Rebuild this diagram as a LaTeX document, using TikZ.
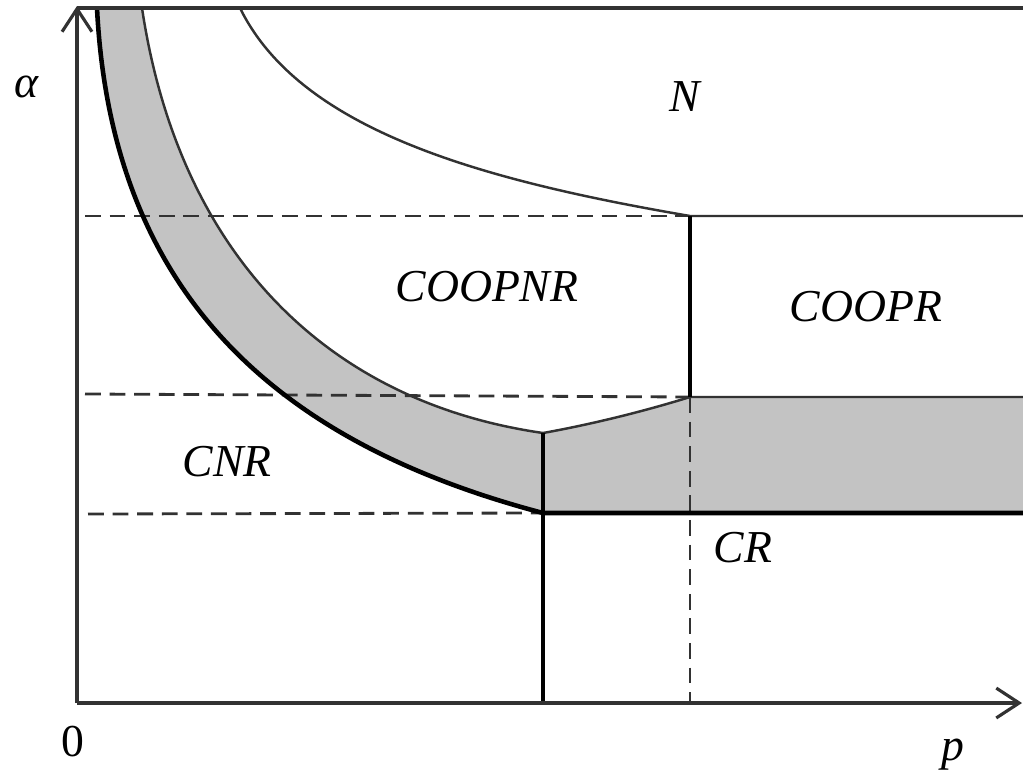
\documentclass[tikz,border=0pt]{standalone}
\usepackage{fontspec}
\setmainfont{Liberation Serif}
\usetikzlibrary{arrows.meta,calc}
\definecolor{myg}{RGB}{195,195,195}
\definecolor{myd}{RGB}{50,50,50}
\begin{document}
\begin{tikzpicture}[x=0.02cm,y=-0.02cm]
	\tikzset{
		axis/.style={draw=myd,line width=1.8pt,-{Straight Barb[length=13pt,width=17pt]}},
		thin bound/.style={draw=myd,line width=1.4pt},
		thick bound/.style={draw=black,line width=2.6pt},
		wall/.style={draw=black,line width=2pt},
		guide/.style={draw=myd,line width=1.6pt,dash pattern=on 9pt off 5pt},
		region/.style={font=\fontsize{26}{30}\selectfont\itshape,inner sep=0pt}
	}
	\useasboundingbox (0,0) rectangle (1023,774);
	% key points
	\coordinate (o) at (77,703);
	\coordinate (ytop) at (77,6);
	\coordinate (xend) at (1022,703);
	\coordinate (tl) at (77,8);
	\coordinate (tr) at (1023,8);
	\coordinate (outer top) at (97,8);
	\coordinate (outer end) at (543,513);
	\coordinate (inner top) at (142,8);
	\coordinate (inner end) at (543,433);
	\coordinate (kink) at (690,397);
	\coordinate (n top) at (240,8);
	\coordinate (n end) at (690,216);
	\coordinate (band lo) at (1023,513);
	\coordinate (band hi) at (1023,397);
	\coordinate (n right) at (1023,216);
	% grey band
	\fill[myg] (outer top) .. controls (112,308) and (293,447) .. (outer end) -- (band lo) -- (band hi) -- (kink)
		.. controls (645,411) and (593,424) .. (inner end) .. controls (321,401) and (178,248) .. (inner top) -- cycle;
	% dashed guides
	\draw[guide] (85,216) -- (n end);
	\draw[guide] (85,394) -- (kink);
	\draw[guide] (88,514) -- (outer end);
	\draw[guide] (kink) -- (kink |- o);
	% boundaries
	\draw[thin bound] (n top) .. controls (300,130) and (480,180) .. (n end) -- (n right);
	\draw[thin bound] (inner top) .. controls (178,248) and (321,401) .. (inner end)
		.. controls (593,424) and (645,411) .. (kink) -- (band hi);
	\draw[thick bound] (outer top) .. controls (112,308) and (293,447) .. (outer end) -- (band lo);
	\draw[wall] (n end) -- (kink);
	\draw[wall] (inner end) -- (inner end |- o);
	% frame and axes
	\draw[thin bound,line width=1.8pt] (tl) -- (tr);
	\draw[axis] (o) -- (ytop);
	\draw[axis] (o) -- (xend);
	% labels
	\node[region] (alpha) at (26,87) {α};
	\node[region,font=\fontsize{26}{30}\selectfont] (zero) at (73,742) {0};
	\node[region] (p) at (953,755) {p};
	\node[region] (N) at (685,97) {N};
	\node[region] (COOPNR) at (487,287) {COOPNR};
	\node[region] (COOPR) at (866,307) {COOPR};
	\node[region] (CNR) at (227,462) {CNR};
	\node[region] (CR) at (743,548) {CR};
\end{tikzpicture}
\end{document}
